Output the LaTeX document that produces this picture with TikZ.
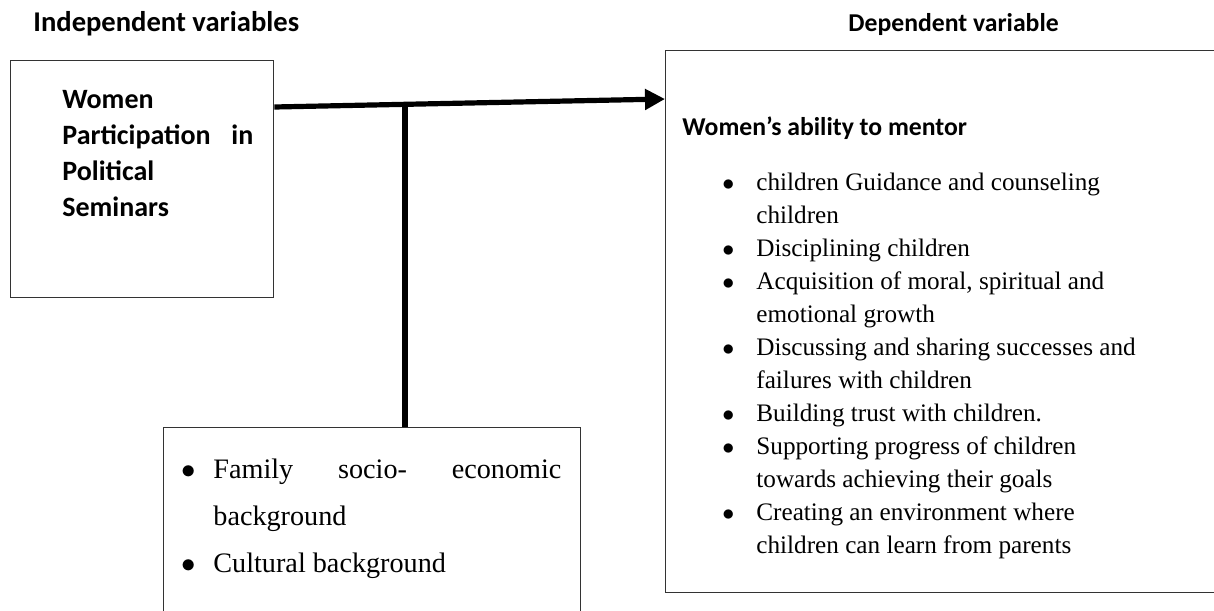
\documentclass[tikz,border=0pt]{standalone}
\usepackage{fontspec}
\setmainfont{Liberation Serif}
\newfontfamily\headfont{Carlito}
\usetikzlibrary{arrows.meta,positioning}

% bullet with a fixed hanging width
\newcommand\bitem[1][17pt]{\makebox[#1][l]{$\bullet$}}

\tikzset{
  framebox/.style={draw=black!80, line width=0.7pt, anchor=north west, inner sep=0pt},
  heading/.style={font=\headfont\bfseries\fontsize{12.85}{18}\selectfont, anchor=base west, inner sep=0pt},
  boxtext/.style={font=\headfont\bfseries\fontsize{14}{18}\selectfont, anchor=north west, align=left, inner sep=0pt},
  listtext/.style={font=\fontsize{12.6}{16.5}\selectfont, anchor=north west, align=left, inner sep=0pt},
  link/.style={line width=2.6pt},
}

\begin{document}
\begin{tikzpicture}[x=0.5pt,y=-0.5pt]
  \useasboundingbox (0,0) rectangle (1214,610);
  % column headings
  \node[heading,font=\headfont\bfseries\fontsize{14.3}{18}\selectfont] (indeplabel) at (33,32) {Independent variables};
  \node[heading] (deplabel) at (848,32) {Dependent variable};

  % the three frames
  \node[framebox,minimum width=131.5pt,minimum height=118.5pt] (indep) at (10,60) {};
  \node[framebox,minimum width=280pt,minimum height=271pt] (dep) at (665,50) {};
  \node[framebox,minimum width=208.5pt,minimum height=100pt] (context) at (163,427) {};

  % independent variable
  \node[boxtext] (seminars) at (62,90) {Women\\
    \makebox[95.5pt]{Participation\hfill in}\\
    Political\\
    Seminars};

  % dependent variable
  \node[heading] (mentor) at (682,135) {Women’s ability to mentor};
  \node[listtext] (outcomes) at (722,173) {%
    \bitem children Guidance and counseling\\
    \hspace*{17pt}children\\
    \bitem Disciplining children\\
    \bitem Acquisition of moral, spiritual and\\
    \hspace*{17pt}emotional growth\\
    \bitem Discussing and sharing successes and\\
    \hspace*{17pt}failures with children\\
    \bitem Building trust with children.\\
    \bitem Supporting progress of children\\
    \hspace*{17pt}towards achieving their goals\\
    \bitem Creating an environment where\\
    \hspace*{17pt}children can learn from parents};

  % intervening variables
  \node[listtext,font=\fontsize{14.1}{23.5}\selectfont] (background) at (181,459) {%
    \bitem[16pt]\makebox[174pt]{Family\hfill socio-\hfill economic}\\
    \hspace*{16pt}background\\
    \bitem[16pt]Cultural background};

  % connectors
  \coordinate (out) at ([yshift=-23.5pt]indep.north east);
  \coordinate (in) at ([yshift=-24.5pt]dep.north west);
  \draw[link,-{Triangle[length=10pt,width=10pt]}] (out) -- (in);
  \coordinate (split) at (405,104.5);
  \draw[link] (split) -- (split |- context.north);
\end{tikzpicture}
\end{document}
